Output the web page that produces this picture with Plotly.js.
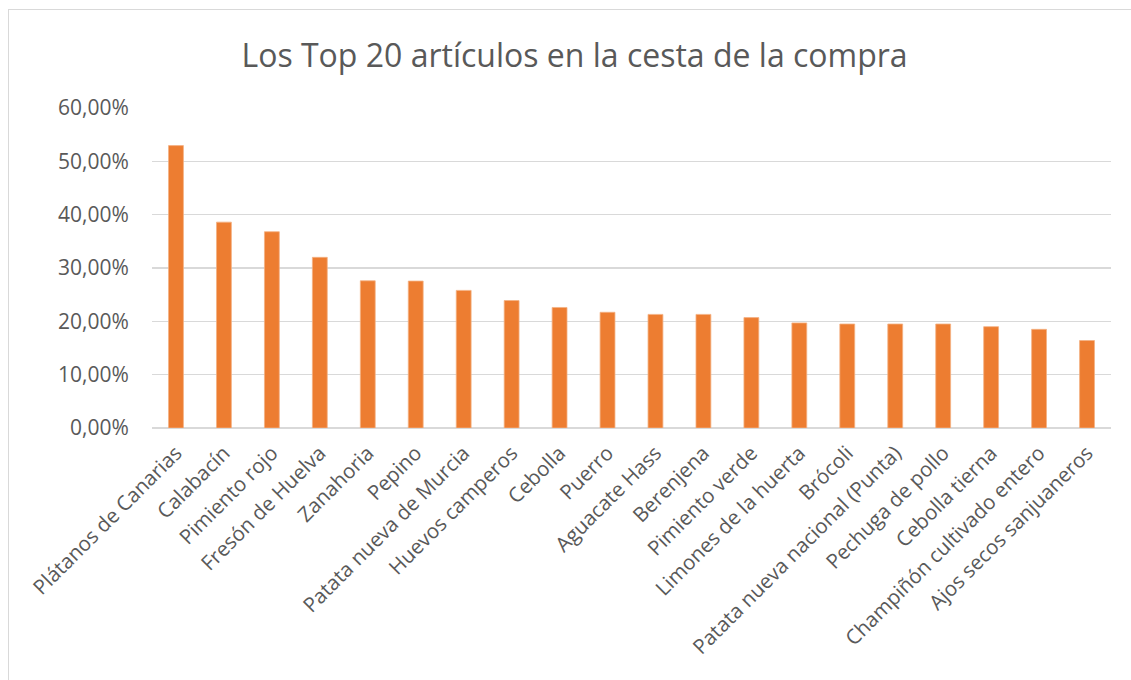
<!DOCTYPE html>
<html>
<head>
<meta charset="utf-8">
<script src="https://cdn.plot.ly/plotly-3.0.1.min.js"></script>
<style>
  html, body { margin: 0; padding: 0; background: #ffffff; }
  #wrap { position: relative; width: 1131px; height: 680px; overflow: hidden; background: #fff; }
  #frame { position: absolute; left: 8px; top: 9px; width: 1200px; height: 800px;
           border-left: 1.5px solid #d9d9d9; border-top: 1.5px solid #d9d9d9; box-sizing: border-box; }
  #chart { position: absolute; left: 0; top: 0; width: 1131px; height: 680px; }
</style>
</head>
<body>
<div id="wrap">
  <div id="frame"></div>
  <div id="chart"></div>
</div>
<script>
const categories = [
  "Plátanos de Canarias", "Calabacín", "Pimiento rojo", "Fresón de Huelva", "Zanahoria",
  "Pepino", "Patata nueva de Murcia", "Huevos camperos", "Cebolla", "Puerro",
  "Aguacate Hass", "Berenjena", "Pimiento verde", "Limones de la huerta", "Brócoli",
  "Patata nueva nacional (Punta)", "Pechuga de pollo", "Cebolla tierna",
  "Champiñón cultivado entero", "Ajos secos sanjuaneros"
];
const shares = [
  0.5295, 0.386, 0.368, 0.320, 0.276,
  0.2755, 0.258, 0.239, 0.226, 0.217,
  0.213, 0.213, 0.207, 0.197, 0.195,
  0.195, 0.195, 0.190, 0.185, 0.164
];
const yTickValues = [0, 0.1, 0.2, 0.3, 0.4, 0.5, 0.6];
const chartTitle = "Los Top 20 artículos en la cesta de la compra";

const trace = {
  type: "bar",
  x: categories,
  y: shares,
  marker: { color: "#ed7d31", line: { color: "#f4b183", width: 0.8 } },
  width: 0.31,
  hoverinfo: "x+y"
};

const layout = {
  width: 1131,
  height: 680,
  paper_bgcolor: "rgba(0,0,0,0)",
  plot_bgcolor: "rgba(0,0,0,0)",
  margin: { l: 152, r: 20, t: 108, b: 252, pad: 0 },
  separators: ",.",
  showlegend: false,
  title: {
    text: chartTitle,
    font: { family: "Open Sans, sans-serif", size: 32, color: "#595959" },
    x: 0.508, xanchor: "center",
    y: 0.918, yanchor: "middle"
  },
  xaxis: {
    type: "category",
    tickangle: -45,
    tickfont: { family: "Open Sans, sans-serif", size: 20.5, color: "#595959" },
    showgrid: false,
    zeroline: false,
    showline: false,
    ticks: "outside",
    ticklen: 4,
    tickcolor: "rgba(0,0,0,0)",
    automargin: false
  },
  yaxis: {
    range: [0, 0.6],
    tickvals: yTickValues,
    tickformat: ".2%",
    tickfont: { family: "Open Sans, sans-serif", size: 21, color: "#595959" },
    showgrid: true,
    gridcolor: "#d9d9d9",
    gridwidth: 1.3,
    zeroline: true,
    zerolinecolor: "#d9d9d9",
    zerolinewidth: 1.3,
    showline: false,
    ticks: "outside",
    ticklen: 18,
    tickcolor: "rgba(0,0,0,0)",
    automargin: false
  }
};

Plotly.newPlot("chart", [trace], layout, { displayModeBar: false, staticPlot: true });
</script>
</body>
</html>
